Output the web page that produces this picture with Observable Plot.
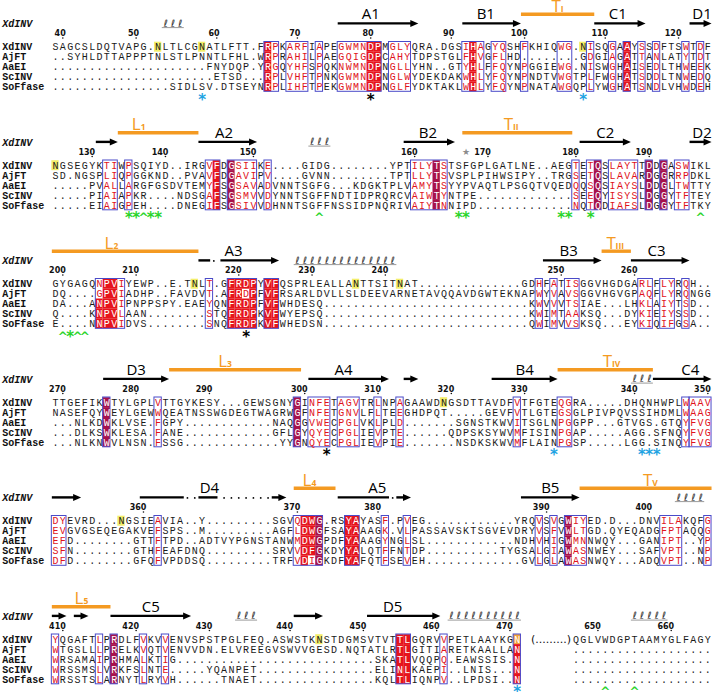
<!DOCTYPE html>
<html><head><meta charset="utf-8">
<script src="https://cdn.jsdelivr.net/npm/d3@7"></script>
<script src="https://cdn.jsdelivr.net/npm/@observablehq/plot@0.6"></script>
<style>html,body{margin:0;padding:0;background:#fff}#chart svg{display:block}</style>
</head><body><div id="chart"></div>
<script>
// ---------------- DATA ----------------
const names = ["XdINV","AjFT","AaEI","ScINV","SoFfase"];
const firstResidue = [39,125,199,269,351,409];
const resumeCol = 71, resumeResidue = 647; // after "(.........)" in last block

const seqBlock1 = [
"SAGCSLDQTVAPG.NLTLCGNATLFTT.FRPKARFIAPEGWMNDPMGLYQRA.DGSIHAGYQSHFKHIQWG.NISQGAAYSSDFTSWTDF",
"..SYHLDTTAPPPTNLSTLPNNTLFHL.WRPRAHILPAEGQIGDPCAHYTDPSTGLFHVGFLHD........GDGIAGATTANLATYTDT",
".....................FNYDQP.YRGQYHFSPQKNWMNDPNGLLYHN..GTYHLFFQYNPGGIEWG.NISWGHAISEDLTHWEEK",
"......................ETSD...RPLVHFTPNKGWMNDPNGLWYDEKDAKWHLYFQYNPNDTVWGTPLFWGHATSDDLTNWEDQ",
"................SIDLSV.DTSEYNRPLIHFTPEKGWMNDPNGLFYDKTAKLWHLYFQYNPNATAWGQPLYWGHATSNDLVHWDEH"];
const seqBlock2 = [
"NGSEGYKTIWPSQIYD..IRGVFDGSIIKE....GIDG........YPTILYTSTSFGPLGATLNE..AEGTETQSLAYTTDDGASWIKL",
"SD.NGSPLIQPGGKND..PVAVFDGAVIPV....GVNN........TPTLLYTSVSPLPIHWSIPY..TRGSETQSLAVARDGGRRPDKL",
".....PVALLARGFGSDVTEMYFSGSAVADVNNTSGFG...KDGKTPLVAMYTSYYPVAQTLPSGQTVQEDQQSQSIAYSLDDGLTWTTY",
".....PIAIAPKR....NDSGAFSGSMVVDYNNTSGFFNDTIDPRQRCVAIWTYNTPE.............SEEQYISYSLDGGYTFTEY",
".....EIAIGPEH....DNEGIFSGSIVVDHNNTSGFFNSSIDPNQRIVAIYTNNIPD.............NQTQDIAFSLDGGYTFTKY"];
const seqBlock3 = [
"GYGAGQNPVIYEWP..E.TNLT.GFRDPYVFQSPRLEALLANTTSITNAT..............GDHFATISGGVHGDGARLFLYRQH..",
"DQ....GPVIADHP..FAVDVT.AFRDPFVFRSARLDVLLSLDEEVARNETAVQQAVDGWTEKNAPWYVAVSGGVHGVGPAQFLYRQNGG",
"DA...ANPVIPNPPSPY.EAEYQNFRDPFVFWHDESQ............................KWVVVTSIAE...LHKLAIYTSD..",
"Q....KNPVLAAN........STQFRDPKVFWYEPSQ............................KWIMTAAKSQ...DYKIEIYSSD..",
"E....NNPVIDVS........SNQFRDPKVFWHEDSN............................QWIMVVSKSQ...EYKIQIFGSA.."];
const seqBlock4 = [
"TTGEFIKWTYLGPLVTTGYKESY...GEWSGNYGINFETAGVTRLNPAGAAWDNGSDTTAVDFVTFGTEQGRA.....DHQNHWPLWAAV",
"NASEFQYWEYLGEWWQEATNSSWGDEGTWAGRWGFNFETGNVLFLTEEGHDPQT.....GEVFVTLGTEGSGLPIVPQVSSIHDMLWAAG",
"...NLKDWKLVSE.FGPY............NAQGGVWECPGLVKLPLD.......SGNSTKWVITSGLNPGGPP...GTVGS.GTQYFVG",
"...DLKSWKLESA.FANE............GFLGYQYECPGLIEVPTE......QDPSKSYWVMFISINPGAP.....AGG.SFNQYFVG",
"...NLKNWVLNSN.FSSG.............YYGNQYECPGLIEVPIE.......NSDKSKWVMFLAINPGSP.....LGG.SINQYFVG"];
const seqBlock5 = [
"DYEVRD...NGSIEAVIA..Y.........SGVQDWG.RSYAYASF.PVEG............YRQVSVGWIYED.D...DNVILAKQFG",
"EVGVGSEQEGAKVEFSPS..M.........AGFLDWGFSAYAAAGK.VLPASSAVSKTSGVEVDRYVSFVWLTGD.QYEQADGFPTAQQG",
"EFD........GTTFTPD..ADTVYPGNSTANWMDWGPDFYAAAGYNGLSL............NDHVHIGWMNNWQY...GANIPT..YP",
"SFN........GTHFEAFDNQ.........SRVVDFGKDYYALQTFFNTDP..........TYGSALGIAWASNWEY...SAFVPT..NP",
"DFD........GFQFVPDDSQ.........TRFVDIGKDFYAFQTFSEVEH.............GVLGLAWASNWQY...ADQVPT..NP"];
const seqBlock6 = [
"YQGAFTLPRDLFVKVVENVSPSTPGLFEQ.ASWSTKNSTDGMSVTVTTLGQRVVPETLAAYKGN       QGLVWDGPTAAMYGLFAGY",
"WTGSLLLPRELKVQTVENVVDN.ELVREEGVSWVVGESD.NQTATLRTLGITIARETKAALLAN       ...................",
"WRSAMAIPRHMALKTIG...........................SKATLVQQPQ.EAWSSIS.N       ...................",
"WRSSMSLVRKFSLNTE.....YQANPET................ELINLKAEPI..LNIS...N       ...................",
"WRSSTSLARNYTLRYVH......TNAET................KQLTLIQNPV..LPDSI..N       ..................."];

// framed (similarity) column ranges per block
const framesBlock1 = [[29,30],[32,34],[36,36],[39,44],[46,48],[56,58],[60,61],[64,64],[69,70],[73,73],[76,76],[78,78],[80,80],[82,82],[86,86],[88,88]];
const framesBlock2 = [[7,8],[10,10],[21,22],[24,27],[29,29],[49,53],[71,71],[73,74],[76,79],[81,81],[83,83],[85,86]];
const framesBlock3 = [[6,9],[21,21],[24,27],[29,30],[66,66],[68,68],[70,71],[80,81],[83,84],[86,86]];
const framesBlock4 = [[7,7],[14,14],[33,33],[35,37],[39,41],[44,44],[47,47],[63,63],[69,70],[86,86],[87,89]];
const framesBlock5 = [[0,1],[14,14],[33,36],[40,41],[45,45],[48,48],[66,66],[68,68],[70,72],[83,85],[89,89]];
const framesBlock6 = [[0,0],[6,6],[8,8],[12,12],[15,15],[47,48],[53,53],[63,63]];

// identity boxes: [column, kind (R red / M dark red), rows mask]
const fillsBlock1 = [[29,"R"],[43,"R"],[44,"R"],[57,"R"],[78,"R"]];
const fillsBlock2 = [[22,"R"],[24,"M"],[52,"M"],[74,"M"],[81,"M"],[83,"M"]];
const fillsBlock3 = [[6,"R","00111"],[7,"R"],[8,"R"],[24,"R"],[25,"R"],[26,"R","10111"],[27,"R"],[29,"R"],[30,"R"]];
const fillsBlock4 = [[7,"M"],[33,"M"]];
const fillsBlock5 = [[34,"R"],[35,"R","11110"],[36,"M"],[40,"R"],[41,"R"],[70,"M"]];
const fillsBlock6 = [[8,"M"],[47,"R"],[48,"R"],[63,"R","01111"]];

// N-glycosylation sites on XdINV (yellow), and the orange one
const glycoBlocks = [[14,20,72],[0],[19,41,47],[53],[9],[36]];
const orangeBlock6 = [63];

// symbols below the alignment: [column, symbol, colour key]
const marksBlock1 = [[20,"*","b"],[43,"*","k"],[72,"*","b"]];
const marksBlock2 = [[10,"*","g"],[11,"*","g"],[12,"^","g"],[13,"*","g"],[14,"*","g"],[36,"^","g"],[55,"*","g"],[56,"*","g"],[69,"*","g"],[70,"*","g"],[73,"*","g"],[88,"^","g"]];
const marksBlock3 = [[1,"^","g"],[2,"*","g"],[3,"^","g"],[4,"^","g"],[26,"*","k"]];
const marksBlock4 = [[37,"*","k"],[68,"*","b"],[80,"*","b"],[81,"*","b"],[82,"*","b"]];
const marksBlock5 = [];
const marksBlock6 = [[63,"*","b"],[75,"^","g"],[79,"^","g"]];

// secondary structure: [kind, startCol, endCol, label, labelCol, subscript]
const ssBlock1 = [["coil",15,17],["arrow",39,49,"A1",43],["arrow",56,63,"B1",58.7],["bar",64,73,"T",68.3,"I"],["arrow",74,80,"C1",76.7],["arrow",87,89,"D1",88.2]];
const ssBlock2 = [["arrow",6,8],["bar",9,19,"L",11,"1"],["arrow",20,27,"A2",23],["coil",35,37],["arrow",48,54,"B2",50.8],["bar",56,70,"T",61.8,"II"],["arrow",72,78,"C2",75],["arrow",87,89,"D2",88.2]];
const ssBlock3 = [["bar",0,19,"L",7.3,"2"],["line",20,20.6],["dots",21.6,21.6],["arrow",23,30,"A3",24.3],["coil",33,46],["arrow",67,74,"B3",70],["bar",75,78,"T",75.8,"III"],["arrow",79,86,"C3",82]];
const ssBlock4 = [["arrow",7,15,"D3",11],["bar",16,33,"L",22.8,"3"],["arrow",35,45,"A4",39.3],["arrow",48,49],["arrow",60,68,"B4",64],["bar",69,81,"T",75.3,"IV"],["coil",79,81],["arrow",82,89,"C4",86.6]];
const ssBlock5 = [["arrow",0,3],["line",12,17],["dots",18,19],["line",20,21.6,"D4",21],["dots",23,29],["arrow",30,31],["bar",33,37.7,"L",34.3,"4"],["line",39,45,"A5",43.9],["dots",46,46],["arrow",47,48],["arrow",64,71,"B5",67.5],["bar",72,89,"T",80.8,"V"],["coil",85,88]];
const ssBlock6 = [["arrow",0,1],["arrow",3,4],["bar",0,7,"L",3.2,"5"],["arrow",8,18,"C5",13],["coil",25,27],["arrow",33,36],["arrow",43,52,"D5",46],["coil",54,63],["coil",79,83]];

// ---------------- LAYOUT / STYLE ----------------
const seqs = [seqBlock1,seqBlock2,seqBlock3,seqBlock4,seqBlock5,seqBlock6];
const frames = [framesBlock1,framesBlock2,framesBlock3,framesBlock4,framesBlock5,framesBlock6];
const fills = [fillsBlock1,fillsBlock2,fillsBlock3,fillsBlock4,fillsBlock5,fillsBlock6];
const marks = [marksBlock1,marksBlock2,marksBlock3,marksBlock4,marksBlock5,marksBlock6];
const ss = [ssBlock1,ssBlock2,ssBlock3,ssBlock4,ssBlock5,ssBlock6];

const W = 713, H = 692;
const COL0 = 55, COLW = 7.33, ROW0 = 46.7, BLOCK = 118.5, ROWH = 9.9;
const yAt = (b, off) => ROW0 + b * BLOCK + off;
const RED = "#e6141c", DARK = "#a8124a", TXTRED = "#e0121a", FRAME = "#4a4ac8";
const ORANGE = "#f49a22", YEL = "#f3ee6a", ORFILL = "#f2a23a";
const MARKC = {b: "#1fa3e2", k: "#000000", g: "#2ad42a"};
const FILLC = {R: RED, M: DARK, Y: YEL, O: ORFILL};
const key = (b, r, c) => b + ":" + r + ":" + c;

const fillKind = new Map();
fills.forEach((list, b) => list.forEach(([c, k, rows = "11111"]) => {
  for (let r = 0; r < 5; r++) if (rows[r] === "1") fillKind.set(key(b, r, c), k);
}));
glycoBlocks.forEach((list, b) => list.forEach(c => fillKind.set(key(b, 0, c), "Y")));
orangeBlock6.forEach(c => fillKind.set(key(5, 0, c), "O"));
const framed = new Set();
frames.forEach((list, b) => list.forEach(([s, e]) => { for (let c = s; c <= e; c++) framed.add(b + ":" + c); }));

const cells = [];
seqs.forEach((rows, b) => rows.forEach((s, r) => {
  for (let c = 0; c < s.length; c++) {
    const ch = s[c];
    if (ch === " ") continue;
    const fk = fillKind.get(key(b, r, c));
    let color = "#1a1a1a";
    if (fk === "R" || fk === "M" || fk === "O") color = "#fff";
    else if (fk === "Y") color = "#1a1a1a";
    else if (ch !== "." && framed.has(b + ":" + c)) color = TXTRED;
    cells.push({b, r, c, ch, fk, color});
  }
}));
const fillCells = cells.filter(d => d.fk);

const frameRects = frames.flatMap((list, b) => list.map(([s, e]) => ({b, s, e})));

const nameRows = [];
seqs.forEach((rows, b) => names.forEach((n, r) => nameRows.push({b, r, n})));

const ticks = [];
seqs.forEach((rows, b) => {
  let n = firstResidue[b];
  const s = rows[0];
  for (let c = 0; c < s.length; c++) {
    if (b === 5 && c === resumeCol) n = resumeResidue;
    const ch = s[c];
    if (ch === "." || ch === " ") continue;
    if (n % 10 === 0) ticks.push({b, c, n});
    n++;
  }
});

const markRows = marks.flatMap((list, b) => list.map(([c, sym, col]) => ({b, c, sym, col: MARKC[col]})));

const shafts = [], heads = [], bars = [], blackLabels = [], orangeLabels = [], coils = [], coilBase = [], ssDots = [];
ss.forEach((list, b) => list.forEach(([kind, s, e, label, lc, sub]) => {
  if (kind === "arrow" || kind === "line") {
    shafts.push({b, x1: s - 0.5, x2: kind === "arrow" ? e + 0.5 - 0.7 : e + 0.5});
    if (kind === "arrow") heads.push({b, x: e + 0.5});
    if (label) blackLabels.push({b, x: lc, t: label});
  } else if (kind === "bar") {
    bars.push({b, x1: s - 0.5, x2: e + 0.5});
    orangeLabels.push({b, x: lc, t: label, sub});
  } else if (kind === "coil") {
    for (let c = s; c <= e; c++) coils.push({b, c});
    coilBase.push({b, x1: s - 0.5, x2: e + 0.5});
  } else if (kind === "dots") {
    for (let c = s; c <= e + 1e-9; c++) ssDots.push({b, c});
  }
}));

const blocksIdx = [0, 1, 2, 3, 4, 5];
const rightTriangle = {
  draw(ctx, size) {
    const r = Math.sqrt(size / Math.PI);
    const L = 2.5 * r, hw = 1.1 * r;
    ctx.moveTo(0, 0); ctx.lineTo(-L, -hw); ctx.lineTo(-L, hw); ctx.closePath();
  }
};
const MONO = "Liberation Mono, DejaVu Sans Mono, monospace";
const SANS = "Open Sans, DejaVu Sans, sans-serif";

const chart = Plot.plot({
  width: W, height: H,
  marginTop: 0, marginRight: 0, marginBottom: 0, marginLeft: 0,
  x: {domain: [0, 89], range: [COL0, COL0 + 89 * COLW], axis: null},
  y: {domain: [0, H], range: [0, H], axis: null},
  color: {type: "identity"},
  style: {background: "#fff", overflow: "visible"},
  marks: [
    // identity / glyco boxes
    Plot.rect(fillCells, {x1: d => d.c - 0.5, x2: d => d.c + 0.5,
      y1: d => yAt(d.b, d.r * ROWH - 5), y2: d => yAt(d.b, d.r * ROWH + 5),
      fill: d => FILLC[d.fk]}),
    // similarity frames
    Plot.rect(frameRects, {x1: d => d.s - 0.5, x2: d => d.e + 0.5,
      y1: d => yAt(d.b, -5.2), y2: d => yAt(d.b, 4 * ROWH + 5),
      fill: "none", stroke: FRAME, strokeWidth: 1}),
    // residues
    Plot.text(cells, {x: "c", y: d => yAt(d.b, d.r * ROWH), text: "ch", fill: "color",
      fontFamily: MONO, fontSize: 10}),
    Plot.text(blocksIdx.filter(b => b === 5), {x: () => 67.6, y: b => yAt(b, 0), text: () => "(.........)",
      fontFamily: "DejaVu Sans, sans-serif", fontSize: 11, fill: "#111"}),
    // sequence names
    Plot.text(nameRows, {x: () => -7.25, y: d => yAt(d.b, d.r * ROWH), text: "n", textAnchor: "start",
      fontFamily: MONO, fontWeight: "bold", fontSize: 10, fill: "#111"}),
    Plot.text(blocksIdx, {x: () => -7.25, y: b => yAt(b, -23), text: () => "XdINV", textAnchor: "start",
      fontFamily: MONO, fontWeight: "bold", fontStyle: "italic", fontSize: 10, fill: "#111"}),
    // numbering
    Plot.text(ticks, {x: d => d.c + 0.4, y: d => yAt(d.b, -13.6), text: d => String(d.n), textAnchor: "end",
      fontFamily: "DejaVu Sans, sans-serif", fontWeight: "bold", fontSize: 8, fill: "#111"}),
    Plot.dot(ticks, {x: "c", y: d => yAt(d.b, -9.2), r: 0.8, fill: "#111", stroke: null}),
    Plot.text([1], {x: () => 56, y: () => yAt(1, -13.8), text: () => "\u2605",
      fontFamily: "DejaVu Sans, sans-serif", fontSize: 9, fill: "#8c8c8c"}),
    // secondary structure
    Plot.link(bars, {x1: "x1", x2: "x2", y1: d => yAt(d.b, -33), y2: d => yAt(d.b, -33),
      stroke: ORANGE, strokeWidth: 3.4}),
    Plot.text(orangeLabels, {x: "x", y: d => yAt(d.b, -41), text: "t", fill: ORANGE,
      fontFamily: SANS, fontSize: 17}),
    Plot.text(orangeLabels, {x: "x", y: d => yAt(d.b, -38), text: "sub", fill: ORANGE, dx: 4.5,
      textAnchor: "start", fontFamily: SANS, fontWeight: "bold", fontSize: 8.5}),
    Plot.link(shafts, {x1: "x1", x2: "x2", y1: d => yAt(d.b, -23.8), y2: d => yAt(d.b, -23.8),
      stroke: "#000", strokeWidth: 2.4}),
    Plot.dot(heads, {x: "x", y: d => yAt(d.b, -23.8), symbol: rightTriangle, r: 3.2, fill: "#000", stroke: null}),
    Plot.dot(ssDots, {x: "c", y: d => yAt(d.b, -23.3), r: 0.9, fill: "#000", stroke: null}),
    Plot.text(blackLabels, {x: "x", y: d => yAt(d.b, -33), text: "t", fill: "#000",
      fontFamily: SANS, fontSize: 15}),
    Plot.text(coils, {x: "c", y: d => yAt(d.b, -23.5), text: () => "\u2113", fill: "#333",
      fontFamily: "DejaVu Sans, sans-serif", fontSize: 10}),
    Plot.link(coilBase, {x1: "x1", x2: "x2", y1: d => yAt(d.b, -19.6), y2: d => yAt(d.b, -19.6),
      stroke: "#555", strokeWidth: 0.6}),
    // conservation / site symbols
    Plot.text(markRows.filter(d => d.sym === "*"), {x: "c", y: d => yAt(d.b, 48.5), text: "sym", fill: "col",
      dy: 4, fontFamily: "DejaVu Sans, sans-serif", fontWeight: "bold", fontSize: 15}),
    Plot.text(markRows.filter(d => d.sym === "^"), {x: "c", y: d => yAt(d.b, 48.5), text: "sym", fill: "col",
      dy: 4, fontFamily: "DejaVu Sans, sans-serif", fontWeight: "bold", fontSize: 12})
  ]
});
document.getElementById("chart").appendChild(chart);
</script>
</body></html>
